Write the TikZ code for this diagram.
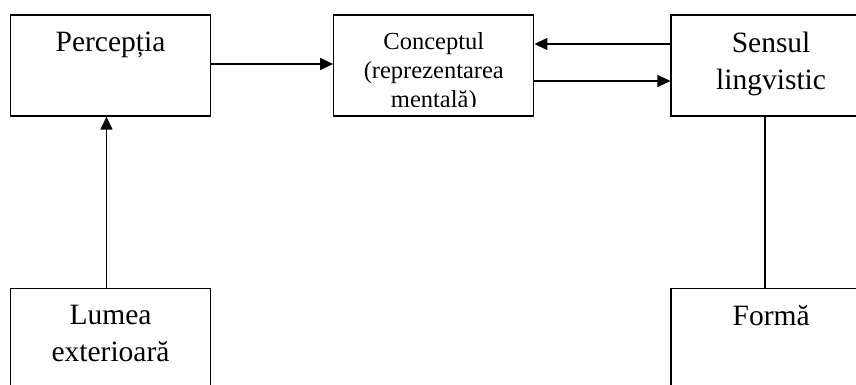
\documentclass[tikz,border=0pt]{standalone}
\usepackage{fontspec}
\setmainfont{Liberation Serif}
\usetikzlibrary{positioning}
\usetikzlibrary{arrows.meta}

\begin{document}
\begin{tikzpicture}[
    x=1pt, y=1pt,
    node distance=122pt,
    box/.style={draw, rectangle, line width=1.3pt, inner sep=0pt,
                minimum width=200pt, minimum height=101pt,
                path picture={
                  \clip ([yshift=9pt]path picture bounding box.south west)
                    rectangle (path picture bounding box.north east);
                  \node[boxtext, anchor=north]
                    at ([yshift=-16.5pt]path picture bounding box.north)
                    {\parbox{190pt}{\centering #1}};}},
    boxtext/.style={inner sep=0pt, minimum width=0pt, minimum height=0pt,
                    font=\fontsize{29.5}{37}\selectfont},
    small/.style={boxtext/.append style={font=\fontsize{24.5}{29}\selectfont}},
    link/.style={line width=1.3pt},
    >={Triangle[length=13pt, width=12pt]}
  ]
    \clip (0,0) rectangle (856,-385);

    % Ligne du haut
    \node[box={Percepția}] (perceptia) at (110.5,-65.5) {};
    \node[box={Conceptul\\(reprezentarea\\mentală)}, small,
          right=122pt of perceptia] (conceptul) {};
    \node[box={Sensul\\lingvistic}, right=136pt of conceptul] (sensul) {};

    % Ligne du bas
    \node[box={Lumea\\exterioară}, below=171pt of perceptia] (lumea) {};
    \node[box={Formă}, below=171pt of sensul] (forma) {};

    % Flèches
    \draw[link, ->] ([yshift=1.5pt]perceptia.east) -- ([yshift=1.5pt]conceptul.west);
    \draw[link, ->] ([yshift=21.5pt]sensul.west) -- ([yshift=21.5pt]conceptul.east);
    \draw[link, ->] ([yshift=-15.5pt]conceptul.east) -- ([yshift=-15.5pt]sensul.west);
    \draw[link, ->] ([xshift=-4pt]lumea.north) -- ([xshift=-4pt]perceptia.south);
    \draw[link] ([xshift=-6pt]sensul.south) -- ([xshift=-6pt]forma.north);

  \end{tikzpicture}
\end{document}
